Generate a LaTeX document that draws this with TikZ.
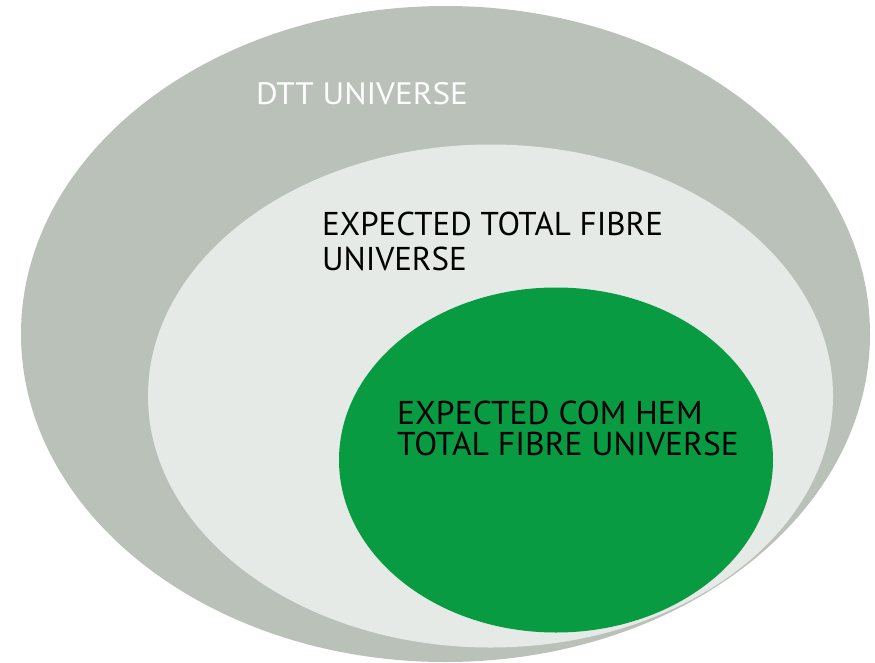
\documentclass[tikz,border=0pt]{standalone}
\usepackage{fontspec}
\setmainfont{PT Sans}
\usetikzlibrary{shapes.geometric}
\definecolor{outergray}{RGB}{185,193,185}
\definecolor{innergray}{RGB}{230,234,231}
\definecolor{comgreen}{RGB}{8,155,66}
\tikzset{
  blob/.style={ellipse, inner sep=0pt, draw=none},
  lbl/.style={anchor=base west, inner sep=0pt, font=\fontsize{33}{33}\selectfont},
}
\begin{document}
\begin{tikzpicture}[x=1pt,y=-1pt]
\useasboundingbox (0,0) rectangle (875,662);
\fill[white] (0,0) rectangle (875,662);
\node[blob, fill=outergray, minimum width=849pt, minimum height=656pt] (outer) at (445.5,334) {};
\node[blob, fill=innergray, minimum width=685pt, minimum height=503pt] (middle) at (490.5,396) {};
\node[blob, fill=comgreen, minimum width=434pt, minimum height=345pt] (green) at (556,460) {};
\node[lbl, text=white, font=\fontsize{31}{31}\selectfont] (t1) at (256,104.3) {\scalebox{1.07}[1]{DTT UNIVERSE}};
\node[lbl] (t2a) at (322,235.7) {EXPECTED TOTAL FIBRE};
\node[lbl] (t2b) at (322,270) {UNIVERSE};
\node[lbl] (t3a) at (397,424.5) {\scalebox{1.018}[1]{EXPECTED COM HEM}};
\node[lbl] (t3b) at (397,455.5) {\scalebox{1.018}[1]{TOTAL FIBRE UNIVERSE}};
\end{tikzpicture}
\end{document}
